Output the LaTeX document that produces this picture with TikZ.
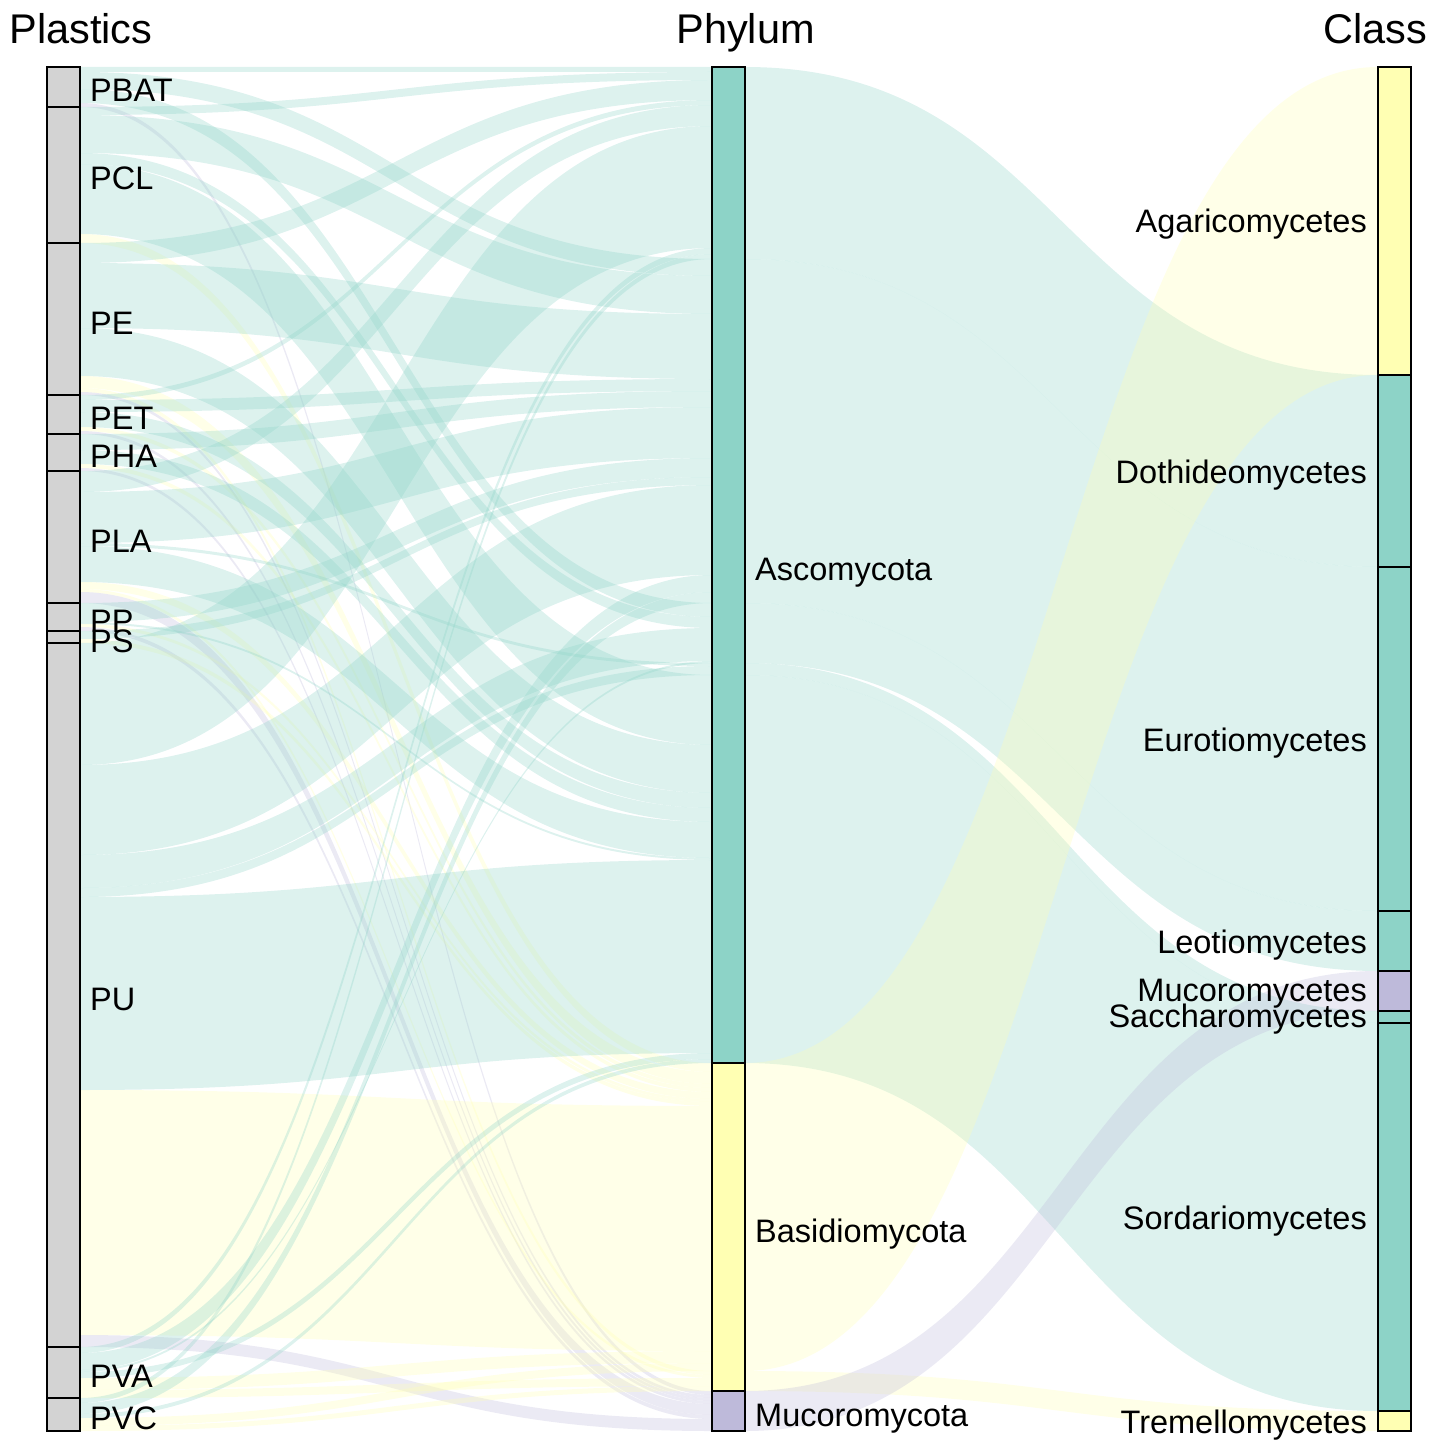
\documentclass[tikz,border=0pt]{standalone}
\usepackage{fontspec}
\setmainfont{Liberation Sans}
\usepackage{tikz}
\definecolor{asco}{HTML}{8DD3C7}
\definecolor{basid}{HTML}{FFFFB3}
\definecolor{muco}{HTML}{BEBADA}
\definecolor{plast}{HTML}{D3D3D3}

\begin{document}
\begin{tikzpicture}[x=1pt,y=-1pt,
    bar/.style={draw=black,line width=1.3pt,inner sep=0pt,minimum width=33pt},
    lab/.style={font=\fontsize{32.5}{39}\selectfont,inner sep=0pt},
    ttl/.style={font=\fontsize{41.5}{50}\selectfont,inner sep=0pt,anchor=base}]
  \useasboundingbox (0,0) rectangle (1437,1455);

  % plastics to phylum
  \foreach \ya/\yb/\yc/\yd/\col in {
      67/72/67/72/asco, 72/89/259/276/asco, 89/103/603/617/asco, 103/107/1391/1395/muco,
      107/115/72/80/asco, 115/153/276/314/asco, 153/164/617/628/asco, 164/234/675/745/asco, 234/243/1063/1072/basid,
      243/263/80/100/asco, 263/328/314/379/asco, 328/376/745/793/asco, 376/388/1072/1084/basid, 388/392/1371/1375/basid, 392/395/1395/1398/muco,
      395/400/100/105/asco, 400/412/379/391/asco, 412/427/793/808/asco, 427/431/1084/1088/basid, 431/434/1398/1401/muco,
      434/450/391/407/asco, 450/464/808/822/asco, 464/468/1088/1092/basid, 468/471/1401/1404/muco,
      471/492/105/126/asco, 492/543/407/458/asco, 543/546/663/666/asco, 546/582/822/858/asco, 582/589/1092/1099/basid, 589/592/1375/1378/basid, 592/603/1404/1415/muco,
      603/622/458/477/asco, 622/624/858/860/asco, 624/627/1099/1102/basid, 627/631/1415/1419/muco,
      631/639/477/485/asco, 639/643/1102/1106/basid,
      643/765/126/248/asco, 765/855/485/575/asco, 855/888/628/661/asco, 888/897/666/675/asco, 897/1090/860/1053/asco, 1090/1335/1106/1351/basid, 1335/1347/1419/1431/muco,
      1347/1353/248/254/asco, 1353/1370/575/592/asco, 1370/1372/661/663/asco, 1372/1378/1053/1059/asco, 1378/1390/1351/1363/basid, 1390/1398/1378/1386/basid,
      1398/1403/254/259/asco, 1403/1414/592/603/asco, 1414/1418/1059/1063/asco, 1418/1426/1363/1371/basid, 1426/1431/1386/1391/basid}
    \fill[\col,fill opacity=0.3] (80,\ya) .. controls (396,\ya) and (396,\yc) .. (712,\yc)
      -- (712,\yd) .. controls (396,\yd) and (396,\yb) .. (80,\yb) -- cycle;

  % phylum to class
  \foreach \ya/\yb/\yc/\yd/\col in {
      67/259/375/567/asco, 259/603/567/911/asco, 603/663/911/971/asco, 663/675/1011/1023/asco,
      675/1063/1023/1411/asco, 1063/1371/67/375/basid, 1371/1391/1411/1431/basid, 1391/1431/971/1011/muco}
    \fill[\col,fill opacity=0.3] (745,\ya) .. controls (1061.5,\ya) and (1061.5,\yc) .. (1378,\yc)
      -- (1378,\yd) .. controls (1061.5,\yd) and (1061.5,\yb) .. (745,\yb) -- cycle;

  % strata
  \foreach \nm/\c/\h/\txt in {pbat/87/40/PBAT, pcl/175/136/PCL, pe/319/152/PE, pet/414.5/39/PET,
      pha/452.5/37/PHA, pla/537/132/PLA, pp/617/28/PP, ps/637/12/PS, pu/995/704/PU,
      pva/1372.5/51/PVA, pvc/1414.5/33/PVC} {
    \node[bar,fill=plast,minimum height=\h pt] (\nm) at (63.5,\c) {};
    \node[lab,anchor=base west] (l\nm) at (90,\c+15) {\txt};
  }
  \foreach \nm/\c/\h/\f/\txt in {asco/565/996/asco/Ascomycota, basid/1227/328/basid/Basidiomycota,
      mucoro/1411/40/muco/Mucoromycota} {
    \node[bar,fill=\f,minimum height=\h pt] (\nm) at (728.5,\c) {};
    \node[lab,anchor=base west] (l\nm) at (755,\c+15) {\txt};
  }
  \foreach \nm/\c/\h/\f/\d/\txt in {agar/221/308/basid/12/Agaricomycetes, doth/471/192/asco/12/Dothideomycetes,
      euro/739/344/asco/12/Eurotiomycetes, leot/941/60/asco/12/Leotiomycetes,
      mucor/991/40/muco/10/Mucoromycetes, sacch/1017/12/asco/10/Saccharomycetes,
      sord/1217/388/asco/12/Sordariomycetes, trem/1421/20/basid/12/Tremellomycetes} {
    \node[bar,fill=\f,minimum height=\h pt] (\nm) at (1394.5,\c) {};
    \node[lab,anchor=base east] (l\nm) at (1367,\c+\d) {\txt};
  }

  \node[ttl] (tplast) at (81,44) {Plastics};
  \node[ttl] (tphyl) at (745.5,44) {Phylum};
  \node[ttl] (tclass) at (1375.5,44) {Class};
\end{tikzpicture}
\end{document}
